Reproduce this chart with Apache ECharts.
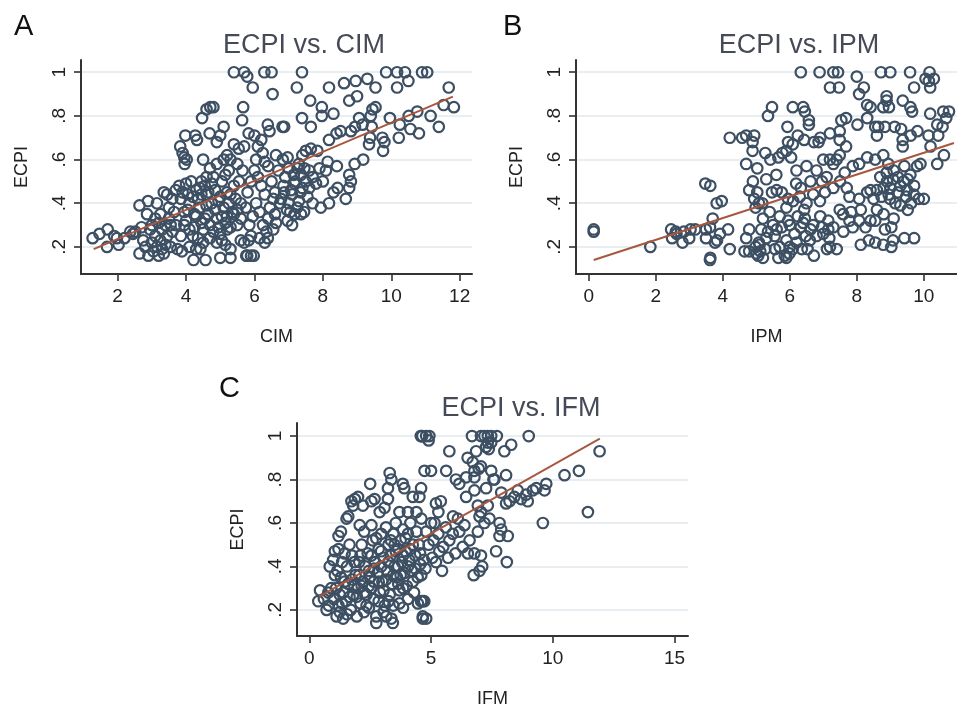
<!DOCTYPE html>
<html>
<head>
<meta charset="utf-8">
<script src="https://cdn.jsdelivr.net/npm/echarts@6/dist/echarts.min.js"></script>
<style>
  html, body { margin: 0; padding: 0; background: #fff; }
  #main { width: 957px; height: 709px; }
</style>
</head>
<body>
<div id="main"></div>
<script>
// ECPI vs. CIM  [CIM, ECPI]
const cimPoints = [
  [1.27,.24],[1.47,.26],[1.71,.28],[1.69,.2],[1.98,.24],[2.03,.21],[1.9,.25],[2.2,.24],[2.37,.27],[2.52,.27],
  [2.45,.26],[2.64,.39],[2.89,.41],[2.86,.35],[2.64,.17],[2.81,.2],[2.9,.16],[2.75,.23],[2.7,.29],[2.95,.28],
  [3.0,.22],[3.05,.18],[3.1,.25],[3.15,.2],[3.2,.16],[3.25,.23],[3.3,.19],[3.35,.17],[3.4,.21],[3.45,.25],
  [3.3,.28],[3.2,.31],[3.1,.33],[3.4,.3],[3.5,.33],[3.55,.2],[3.6,.27],[3.15,.4],[3.35,.45],[3.45,.44],
  [3.0,.3],[3.25,.35],[3.5,.38],[3.6,.42],[3.7,.46],[3.7,.3],[3.75,.19],[3.88,.18],
  [3.8,.48],[3.9,.45],[4.0,.49],[4.05,.44],[4.1,.4],[3.95,.36],[4.0,.32],[4.1,.28],[4.2,.25],[4.25,.35],
  [4.3,.46],[4.35,.42],[4.4,.38],[4.45,.31],[4.5,.28],[4.55,.48],[4.6,.44],[4.65,.35],[4.7,.3],[4.75,.4],
  [4.8,.52],[4.85,.46],[4.9,.33],[4.95,.29],[5.0,.43],[5.05,.5],[5.1,.38],[5.15,.31],[5.2,.45],[5.25,.55],
  [5.3,.29],[5.35,.36],[5.4,.48],[5.45,.42],[5.5,.3],[4.15,.5],[4.4,.47],[4.6,.52],[4.7,.56],[4.9,.58],
  [5.1,.6],[5.3,.6],[5.5,.58],[4.3,.34],[4.55,.33],[4.8,.27],[5.0,.26],[5.2,.28],[4.5,.22],[4.1,.2],
  [4.3,.19],[4.7,.24],[3.85,.42],[4.65,.45],[5.4,.35],[5.6,.4],[5.55,.5],[4.2,.43],[4.45,.5],[4.85,.37],
  [5.05,.34],[5.25,.4],[4.05,.37],[3.65,.36],[4.75,.49],[5.15,.53],[3.55,.3],[3.85,.25],[4.25,.29],[4.6,.39],
  [4.95,.41],[5.3,.44],[5.5,.37],[5.6,.33],[5.65,.55],[3.95,.3],[4.35,.24],[4.9,.22],[5.2,.34],[4.45,.44],
  [4.22,.14],[4.57,.14],[4.42,.19],[5.0,.15],[5.3,.15],[5.05,.23],[5.15,.21],[5.79,.16],[5.98,.16],[5.83,.23],
  [5.6,.23],[5.3,.19],[5.7,.22],[5.9,.25],
  [4.47,.79],[4.6,.83],[4.71,.84],[4.8,.84],[4.27,.71],[4.32,.69],[3.98,.71],[3.83,.66],[3.95,.61],[3.96,.58],
  [4.02,.6],[3.9,.63],[4.69,.72],[5.0,.71],[5.1,.75],[5.4,1.0],[5.7,1.0],[5.79,.98],[5.95,.93],[5.67,.84],
  [5.64,.78],[5.83,.72],[5.54,.65],[5.7,.66],[5.4,.67],[4.9,.68],[4.5,.6],[5.2,.62],
  [6.29,1.0],[6.5,1.0],[7.39,1.0],[9.85,1.0],[10.17,1.0],[10.4,1.0],[10.9,1.0],[11.05,1.0],[6.53,.9],[7.24,.93],
  [8.18,.93],[8.62,.95],[8.96,.96],[9.3,.97],[9.54,.93],[10.17,.93],[10.5,.96],[11.68,.93],[7.63,.87],[7.97,.84],
  [8.31,.81],[8.77,.87],[9.0,.89],[9.45,.83],[9.54,.84],[7.97,.8],[7.39,.79],[7.65,.75],[6.87,.75],[6.82,.75],
  [6.39,.76],[6.44,.73],[9.06,.79],[9.16,.76],[9.43,.75],[9.4,.8],[9.96,.79],[10.51,.8],[10.76,.82],[11.15,.8],
  [11.53,.85],[11.83,.84],[11.39,.75],[9.74,.7],[9.8,.68],[9.76,.64],[10.22,.7],[10.56,.74],[10.81,.72],[10.25,.76],
  [8.94,.75],[8.82,.73],[8.52,.73],[8.4,.72],[8.18,.69],[9.35,.67],[9.38,.7],[9.18,.6],[8.93,.58],[8.77,.53],
  [8.82,.5],[8.77,.47],[8.67,.42],[8.43,.47],[8.31,.45],[7.94,.38],[8.18,.4],[7.5,.64],[7.65,.65],[7.4,.62],
  [7.84,.64],[8.14,.59],[8.41,.57],[8.09,.55],[6.63,.31],[6.97,.32],[7.17,.35],[7.36,.35],[5.76,.16],[5.9,.16],
  [6.15,.24],[6.39,.24],[6.3,.22],[6.87,.45],[7.07,.46],[6.78,.42],[7.17,.49],[7.36,.53],[7.26,.56],[7.46,.56],
  [6.63,.62],[6.83,.6],[6.97,.61],[6.1,.66],[6.2,.69],[6.0,.71],[6.24,.63],
  [6.0,.55],[6.1,.52],[6.2,.48],[6.3,.44],[6.05,.4],[6.15,.36],[6.25,.3],[6.35,.27],[6.45,.38],[6.5,.5],
  [6.6,.45],[6.7,.55],[6.75,.4],[6.9,.52],[7.0,.4],[7.1,.44],[7.2,.5],[7.3,.41],[7.4,.47],[7.5,.5],
  [7.55,.43],[7.6,.55],[7.7,.52],[7.8,.49],[7.9,.56],[8.0,.5],[6.4,.57],[6.6,.35],[6.95,.37],[7.25,.38],
  [7.45,.36],[7.7,.4],[6.05,.6],[6.3,.59],[5.9,.5],[5.8,.45],[5.75,.38],[5.85,.3],[5.95,.34],[6.4,.33],
  [6.55,.28],[7.1,.3],[7.3,.58],[7.0,.56],[6.85,.48],[7.15,.53],[7.35,.45],[6.55,.42],[7.05,.36],[7.6,.47]
];
const cimFit = [[1.3, 0.19], [11.8, 0.888]];

// ECPI vs. IPM  [IPM, ECPI]
const ipmPoints = [
  [0.15,.28],[0.15,.27],[1.84,.2],[2.46,.28],[2.6,.27],[2.62,.26],[2.49,.24],[2.8,.22],[2.84,.27],[3.04,.28],
  [3.0,.24],[3.18,.28],[3.48,.49],[3.5,.28],[3.5,.24],[3.62,.29],[3.62,.14],[3.77,.22],[3.82,.4],[3.7,.33],
  [6.33,1.0],[6.89,1.0],[7.3,1.0],[7.44,1.0],[8.72,1.0],[9.0,1.0],[9.59,1.0],[10.17,1.0],[8.0,.98],[7.2,.93],
  [7.47,.93],[8.21,.93],[8.07,.9],[9.71,.93],[10.05,.97],[10.15,.96],[10.3,.97],[10.19,.93],[8.89,.89],[8.89,.87],
  [8.41,.84],[8.79,.84],[8.96,.84],[9.37,.87],[9.6,.84],[9.65,.82],[10.19,.81],[10.58,.82],[10.67,.79],[5.47,.84],
  [5.35,.8],[6.09,.84],[6.4,.84],[6.45,.82],[5.93,.75],[6.57,.78],[6.57,.76],
  [4.21,.7],[4.58,.7],[4.7,.71],[4.94,.71],[4.89,.68],[4.89,.64],[5.95,.68],[6.09,.67],[5.9,.64],[5.78,.63],
  [6.24,.71],[6.72,.68],[6.86,.68],[6.91,.7],[6.43,.69],[7.2,.72],[7.49,.73],[7.54,.78],[7.68,.79],[7.49,.69],
  [7.68,.66],[8.02,.76],[8.31,.79],[8.31,.85],[8.55,.75],[8.64,.75],[8.6,.71],[8.84,.75],[9.13,.75],[9.32,.74],
  [9.37,.69],[9.37,.66],[9.61,.71],[9.81,.73],[10.14,.71],[10.43,.71],[10.56,.75],[10.4,.76],
  [4.7,.58],[5.03,.56],[5.27,.63],[5.66,.61],[5.42,.6],[6.04,.61],
  [4.79,.46],[5.03,.45],[4.94,.42],[5.18,.4],[5.47,.45],[5.61,.46],[5.76,.45],[5.95,.42],[6.19,.49],[6.33,.47],
  [6.62,.5],[6.96,.5],[7.1,.52],[7.3,.58],[7.4,.6],[7.49,.62],[7.2,.6],[7.0,.6],[7.64,.54],[7.88,.57],
  [8.07,.58],[8.31,.61],[8.55,.6],[8.79,.62],[8.94,.58],[8.89,.54],[9.08,.51],[9.23,.52],[9.42,.57],[9.52,.51],
  [9.8,.57],[9.9,.58],[9.71,.48],[8.31,.45],[8.41,.46],[8.6,.46],[8.5,.42],[8.74,.43],[8.99,.42],[9.23,.45],
  [9.47,.43],[9.62,.4],[9.52,.37],[9.85,.42],[10.0,.42],[7.78,.43],[8.07,.42],[8.12,.37],[7.83,.36],
  [6.43,.37],[6.24,.34],[6.33,.29],[6.62,.28],[6.48,.25],[6.14,.26],[5.95,.32],[5.76,.29],[5.61,.28],[5.9,.23],
  [5.7,.2],[6.91,.34],[6.96,.29],[7.15,.32],[7.15,.28],[7.18,.24],[7.2,.2],[7.49,.37],[7.59,.35],[7.78,.32],
  [7.88,.29],[8.07,.32],[8.26,.29],[8.41,.32],[8.55,.32],[8.84,.28],[9.03,.29],[8.12,.21],[8.36,.23],[8.55,.22],
  [8.79,.21],[9.03,.2],[9.08,.23],[9.42,.24],[9.71,.24],[7.4,.19],[7.11,.19],[6.72,.16],[6.53,.19],[6.36,.19],
  [4.79,.28],[4.7,.24],[4.79,.18],[4.65,.18],[4.98,.2],[5.08,.22],[5.06,.16],[5.12,.18],[5.27,.19],[5.56,.19],
  [5.66,.15],[5.85,.16],[5.99,.17],[6.09,.19],[4.21,.19],[4.16,.28],[3.92,.26],[3.83,.23],[3.63,.15],[3.97,.41],
  [3.63,.48],[5.08,.4],[4.98,.38],[5.0,.17],[5.2,.15],[5.1,.21],[5.3,.24],[5.9,.15],[6.0,.2],
  [5.2,.33],[5.4,.36],[5.5,.3],[5.7,.34],[5.9,.38],[6.1,.41],[6.3,.43],[6.5,.4],[6.7,.44],[6.9,.41],
  [7.05,.45],[7.3,.47],[7.5,.5],[7.7,.47],[6.2,.55],[6.5,.57],[6.8,.55],[5.6,.53],[5.3,.51],[4.9,.5],
  [6.0,.3],[6.4,.31],[6.7,.3],[6.6,.23],[6.8,.25],[7.3,.29],[7.6,.27],[8.9,.5],[9.1,.55],[9.3,.48],
  [9.6,.53],[8.7,.52],[9.0,.47],[9.3,.39],[9.5,.46],[9.7,.44],[8.6,.37],[8.8,.35],[9.1,.33],[10.6,.62],
  [10.4,.58],[10.75,.82],[10.2,.66],[5.15,.28],[5.35,.27],[5.55,.25],[6.2,.22],[6.45,.33],[7.0,.26],[8.95,.44],
  [9.15,.4],[9.4,.5],[8.8,.47]
];
const ipmFit = [[0.15, 0.14], [10.9, 0.676]];

// ECPI vs. IFM  [IFM, ECPI]
const ifmPoints = [
  [0.37,.24],[0.44,.29],[0.71,.2],[0.78,.28],[0.9,.3],[0.98,.43],[1.05,.47],[1.2,.48],[0.84,.4],[1.12,.17],
  [1.39,.16],[1.25,.19],[1.53,.62],[1.6,.63],[1.73,.7],[1.87,.71],[2.0,.72],[1.8,.68],[2.2,.68],[2.55,.7],
  [2.68,.71],[2.5,.78],[3.3,.83],[3.37,.8],[3.23,.76],[3.23,.71],[3.09,.67],[2.89,.65],[3.7,.65],[3.84,.78],
  [3.9,.76],[4.58,1.0],[4.64,1.0],[4.8,1.0],[4.9,.98],[4.73,.84],[5.0,.84],[4.59,.76],[4.52,.72],[4.25,.72],
  [4.05,.65],[4.4,.65],[2.55,.59],[2.07,.59],[1.3,.56],[1.2,.54],[4.46,.23],[4.59,.24],[4.72,.24],[4.66,.17],
  [4.8,.16],[3.37,.16],[3.43,.14],[2.75,.14],[3.16,.17],[3.7,.23],[3.85,.21],
  [1.0,.25],[1.1,.3],[1.2,.22],[1.3,.35],[1.4,.28],[1.5,.24],[1.55,.4],[1.6,.32],[1.7,.2],[1.75,.45],
  [1.8,.27],[1.9,.36],[1.95,.17],[2.0,.3],[2.05,.42],[2.1,.23],[2.15,.5],[2.2,.33],[2.25,.19],[2.3,.4],
  [2.35,.27],[2.4,.46],[2.45,.21],[2.5,.35],[2.55,.3],[2.6,.52],[2.65,.25],[2.7,.42],[2.75,.17],[2.8,.37],
  [2.85,.48],[2.9,.28],[2.95,.55],[3.0,.33],[3.05,.44],[3.1,.22],[3.15,.58],[3.2,.38],[3.25,.5],[3.3,.27],
  [3.35,.45],[3.4,.32],[3.45,.55],[3.5,.4],[3.55,.6],[3.6,.35],[3.65,.48],[3.7,.29],[3.75,.52],[3.8,.42],
  [3.85,.57],[3.9,.37],[3.95,.47],[4.0,.31],[4.05,.55],[4.1,.43],[4.15,.6],[4.2,.38],[4.25,.5],[4.3,.28],
  [4.35,.45],[4.4,.56],[4.45,.35],[4.5,.5],[4.55,.41],[4.6,.62],[1.45,.46],[1.65,.5],[1.85,.42],[2.25,.56],
  [2.45,.38],[2.65,.33],[2.85,.24],[3.05,.19],[3.25,.42],[3.45,.22],[3.65,.4],[3.85,.3],[4.05,.25],[4.25,.33],
  [1.15,.38],[1.35,.42],[1.55,.18],[1.75,.34],[1.95,.26],[2.15,.31],[2.35,.22],[2.55,.45],[2.75,.53],[2.95,.4],
  [3.15,.34],[3.35,.52],[3.55,.47],[3.75,.36],[3.95,.53],[4.15,.48],[4.35,.39],[4.55,.46],[0.6,.25],[0.8,.22],
  [1.25,.27],[1.45,.33],[1.65,.26],[1.85,.31],[2.05,.36],[2.25,.28],[2.45,.31],[2.65,.39],[2.85,.33],[3.05,.29],
  [3.25,.24],[3.45,.36],[3.65,.32],[3.85,.45],[4.05,.4],[1.05,.36],[1.35,.23],[2.1,.45],[2.95,.47],[3.5,.5],
  [4.6,1.0],[4.93,1.0],[6.68,1.0],[7.05,1.0],[7.19,1.0],[7.33,1.0],[7.47,1.0],[7.7,1.0],[9.01,1.0],[7.33,.97],
  [7.47,.97],[7.26,.95],[7.37,.94],[8.01,.93],[8.29,.96],[5.75,.93],[6.5,.9],[6.71,.88],[6.85,.93],[6.96,.85],
  [7.05,.86],[6.78,.84],[5.62,.84],[6.44,.81],[6.78,.81],[7.47,.84],[7.56,.8],[8.08,.82],[10.48,.82],[11.07,.84],
  [11.92,.93],[9.73,.78],[9.66,.75],[9.32,.76],[9.18,.75],[8.9,.73],[8.56,.75],[8.42,.72],[8.7,.71],[8.97,.7],
  [8.22,.7],[7.88,.74],[8.08,.69],[6.16,.78],[6.02,.8],[6.44,.72],[6.78,.75],[7.26,.76],[7.6,.8],[6.92,.68],
  [7.05,.65],[7.33,.68],[6.99,.63],[7.19,.6],[6.92,.56],[7.4,.62],[7.81,.6],[7.88,.57],[7.81,.54],[8.15,.54],
  [7.67,.47],[8.11,.42],[7.05,.45],[7.1,.4],[6.99,.38],[6.75,.36],[9.59,.6],[11.44,.65],[6.37,.59],[5.89,.55],
  [6.16,.56],[6.58,.52],[6.51,.46],[6.78,.46],[6.3,.49],[5.75,.52],[5.34,.47],[5.5,.49],[5.14,.6],[5.0,.6],
  [5.2,.69],[5.4,.7],[5.3,.65],[4.66,.24],[4.66,.16],[4.7,.43],[4.77,.39],[4.6,.36],[5.1,.52],[5.3,.55],
  [5.6,.58],[5.9,.63],[6.1,.62],[5.45,.38],[5.2,.42],[4.9,.5],[4.8,.56],[5.05,.44],[5.7,.44],[6.0,.46]
];
const ifmFit = [[0.4, 0.261], [11.93, 0.988]];

const yTicks = [0.2, 0.4, 0.6, 0.8, 1];
const cimTicks = [2, 4, 6, 8, 10, 12];
const ipmTicks = [0, 2, 4, 6, 8, 10];
const ifmTicks = [0, 5, 10, 15];

const FONT = 'Liberation Sans, Arial, sans-serif';
const MARK = '#3d4f63';
const FIT = '#a8573f';
const AXIS = '#333';

function fmtY(v) {
  return v === 1 ? '1' : String(Math.round(v * 10) / 10).replace('0.', '.');
}

function xAxisCfg(idx, min, max, ticks, name) {
  return {
    type: 'value', gridIndex: idx, min: min, max: max,
    name: name, nameLocation: 'middle', nameGap: 54,
    nameTextStyle: { fontFamily: FONT, fontSize: 18, color: '#222' },
    axisLine: { show: true, onZero: false, lineStyle: { color: AXIS, width: 2 } },
    axisTick: { show: true, length: 7, customValues: ticks, lineStyle: { color: AXIS, width: 1.6 } },
    axisLabel: { customValues: ticks, margin: 13, fontFamily: FONT, fontSize: 19, color: '#222' },
    splitLine: { show: false }
  };
}

function yAxisCfg(idx, min, max) {
  return {
    type: 'value', gridIndex: idx, min: min, max: max,
    name: 'ECPI', nameLocation: 'middle', nameGap: 50,
    nameTextStyle: { fontFamily: FONT, fontSize: 18, color: '#222' },
    axisLine: { show: true, onZero: false, lineStyle: { color: AXIS, width: 2 } },
    axisTick: { show: true, length: 7, customValues: yTicks, lineStyle: { color: AXIS, width: 1.6 } },
    axisLabel: { customValues: yTicks, rotate: 90, margin: 12, formatter: fmtY,
      fontFamily: FONT, fontSize: 19, color: '#222' },
    splitLine: { show: true, lineStyle: { color: '#e2e8ee', width: 1.5 } }
  };
}

function scatter(idx, data) {
  return {
    type: 'scatter', xAxisIndex: idx, yAxisIndex: idx, data: data,
    symbol: 'circle', symbolSize: 10.5,
    itemStyle: { color: 'rgba(0,0,0,0)', borderColor: MARK, borderWidth: 2.2, opacity: 1 },
    z: 2
  };
}

function fitLine(idx, data) {
  return {
    type: 'line', xAxisIndex: idx, yAxisIndex: idx, data: data,
    showSymbol: false, symbol: 'none',
    lineStyle: { color: FIT, width: 1.9 }, z: 3
  };
}

const myChart = echarts.init(document.getElementById('main'));
const titleStyle = { fontFamily: FONT, fontSize: 27, fontWeight: 'normal', color: '#454a56' };
const letterStyle = { fontFamily: FONT, fontSize: 29, fontWeight: 'normal', color: '#111' };

const option = {
  animation: false,
  backgroundColor: '#fff',
  title: [
    { text: 'ECPI vs. CIM', left: 299, top: 27, textAlign: 'center', textStyle: titleStyle },
    { text: 'ECPI vs. IPM', left: 794, top: 27, textAlign: 'center', textStyle: titleStyle },
    { text: 'ECPI vs. IFM', left: 516, top: 390, textAlign: 'center', textStyle: titleStyle },
    { text: 'A', left: 9, top: 7, textStyle: letterStyle },
    { text: 'B', left: 498, top: 7, textStyle: letterStyle },
    { text: 'C', left: 214, top: 369, textStyle: letterStyle }
  ],
  grid: [
    { left: 81, top: 60, width: 391, height: 214 },
    { left: 576, top: 60, width: 391, height: 214 },
    { left: 297, top: 423, width: 391, height: 214 }
  ],
  xAxis: [
    xAxisCfg(0, 0.93, 12.36, cimTicks, 'CIM'),
    xAxisCfg(1, -0.378, 10.99, ipmTicks, 'IPM'),
    xAxisCfg(2, -0.505, 15.55, ifmTicks, 'IFM')
  ],
  yAxis: [
    yAxisCfg(0, 0.076, 1.056),
    yAxisCfg(1, 0.076, 1.056),
    yAxisCfg(2, 0.08, 1.06)
  ],
  series: [
    scatter(0, cimPoints), fitLine(0, cimFit),
    scatter(1, ipmPoints), fitLine(1, ipmFit),
    scatter(2, ifmPoints), fitLine(2, ifmFit)
  ]
};
myChart.setOption(option);
</script>
</body>
</html>
